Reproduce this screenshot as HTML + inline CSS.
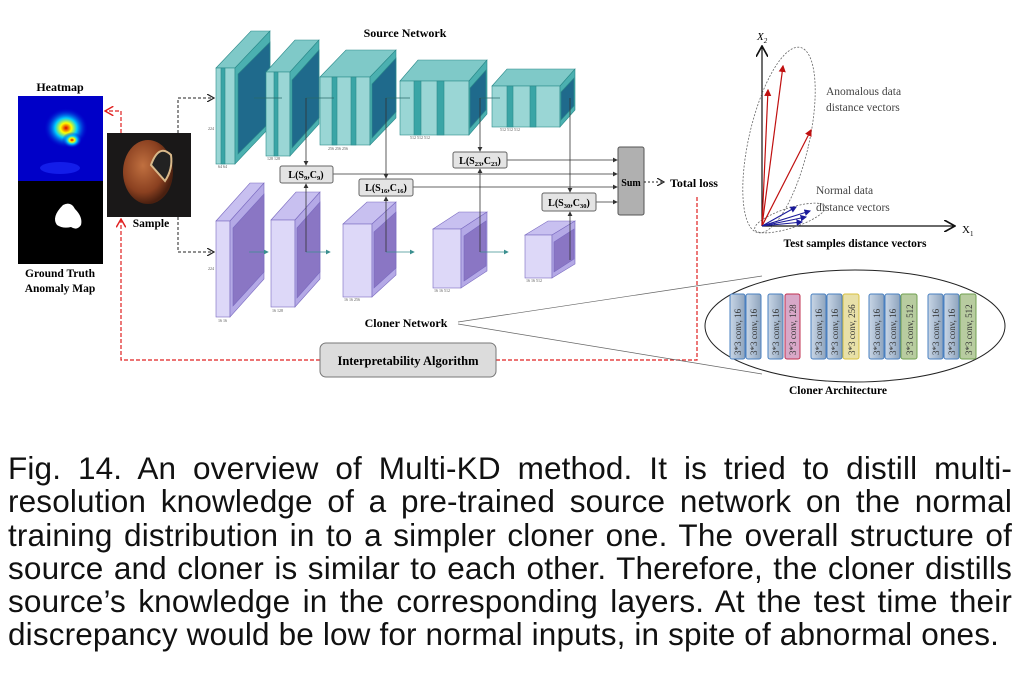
<!DOCTYPE html>
<html><head><meta charset="utf-8">
<style>
html,body{margin:0;padding:0;background:#fff;width:1026px;height:677px;overflow:hidden}
svg{position:absolute;left:0;top:0}
.cap{position:absolute;left:8px;width:1004px;font-family:"Liberation Sans",sans-serif;font-size:31.5px;line-height:33.3px;color:#111;top:452px;letter-spacing:0.15px}
.cap div{text-align:justify;text-align-last:justify;white-space:nowrap}
.cap div.l{text-align-last:left}
text{font-family:"Liberation Serif",serif}
</style></head><body>
<svg width="1026" height="440" viewBox="0 0 1026 440" xmlns="http://www.w3.org/2000/svg">
<defs>
<marker id="ah" markerWidth="8" markerHeight="8" refX="7" refY="4" orient="auto"><path d="M0,0 L7,4 L0,8" fill="none" stroke="#222" stroke-width="1.2"/></marker>
<marker id="ahr" markerWidth="8" markerHeight="8" refX="7" refY="4" orient="auto"><path d="M0,0 L7,4 L0,8" fill="none" stroke="#e02020" stroke-width="1.2"/></marker>
<marker id="ahs" markerWidth="6" markerHeight="6" refX="5" refY="3" orient="auto"><path d="M0,0 L6,3 L0,6z" fill="#333"/></marker>
<marker id="aht" markerWidth="6" markerHeight="6" refX="5" refY="3" orient="auto"><path d="M0,0 L6,3 L0,6z" fill="#3a8f8f"/></marker>
<marker id="ahred" markerWidth="6" markerHeight="6" refX="5" refY="3" orient="auto"><path d="M0,0 L6,3 L0,6z" fill="#c01010"/></marker>
<marker id="ahb" markerWidth="6" markerHeight="6" refX="5" refY="3" orient="auto"><path d="M0,0 L6,3 L0,6z" fill="#1a1a9a"/></marker>
<marker id="ahk" markerWidth="10" markerHeight="10" refX="9" refY="5" orient="auto"><path d="M0,0 L9,5 L0,10" fill="none" stroke="#111" stroke-width="1.4"/></marker>
<radialGradient id="hm" cx="0.5" cy="0.5" r="0.5"><stop offset="0" stop-color="#d00"/><stop offset="0.25" stop-color="#ff0"/><stop offset="0.5" stop-color="#0cf"/><stop offset="1" stop-color="#0000d0" stop-opacity="0"/></radialGradient>
<radialGradient id="nut" cx="0.4" cy="0.4" r="0.6"><stop offset="0" stop-color="#c07040"/><stop offset="0.7" stop-color="#8a4020"/><stop offset="1" stop-color="#4a2010"/></radialGradient>
<linearGradient id="chip" x1="0" y1="0" x2="1" y2="0"><stop offset="0" stop-color="#c9d6e6"/><stop offset="1" stop-color="#8ea4bd"/></linearGradient>
</defs>
<rect width="1026" height="440" fill="#fff"/>

<text x="60" y="91" font-size="12" font-weight="bold" text-anchor="middle">Heatmap</text>
<rect x="18" y="96" width="85" height="85" fill="#0000c8"/>
<ellipse cx="66" cy="128" rx="22" ry="20" fill="url(#hm)"/>
<ellipse cx="72" cy="140" rx="10" ry="8" fill="url(#hm)"/>
<ellipse cx="60" cy="168" rx="20" ry="6" fill="#2030ff" opacity="0.6"/>
<rect x="18" y="181" width="85" height="83" fill="#000"/>
<path d="M63,205 q8,-4 12,4 q8,8 6,16 q-4,6 -10,2 q-8,2 -14,-2 q-6,-8 6,-20z" fill="#fff"/>
<text x="60" y="277" font-size="11.5" font-weight="bold" text-anchor="middle">Ground Truth</text>
<text x="60" y="292" font-size="11.5" font-weight="bold" text-anchor="middle">Anomaly Map</text>

<rect x="107" y="133" width="84" height="84" fill="#1a1818"/>
<ellipse cx="148" cy="172" rx="25" ry="32" fill="url(#nut)"/>
<path d="M151,165 q8,-22 20,-10 q2,14 -6,26 z" fill="#222" stroke="#d9b98a" stroke-width="2"/>
<text x="151" y="227" font-size="11.5" font-weight="bold" text-anchor="middle">Sample</text>

<path d="M178,133 V98 H214" fill="none" stroke="#222" stroke-width="1" stroke-dasharray="3,2" marker-end="url(#ah)"/>
<path d="M178,217 V252 H214" fill="none" stroke="#222" stroke-width="1" stroke-dasharray="3,2" marker-end="url(#ah)"/>

<path d="M121,133 V111 H105" fill="none" stroke="#e02020" stroke-width="1.2" stroke-dasharray="4,2" marker-end="url(#ahr)"/>
<path d="M320,360 H121 V219" fill="none" stroke="#e02020" stroke-width="1.2" stroke-dasharray="4,2" marker-end="url(#ahr)"/>
<path d="M496,360 H697 V195" fill="none" stroke="#e02020" stroke-width="1.2" stroke-dasharray="4,2"/>

<text x="405" y="37" font-size="12" font-weight="bold" text-anchor="middle">Source Network</text>
<g stroke="#2a8a8a" stroke-width="0.6">
<polygon points="216,68 251,31 270,31 235,68" fill="#7fc9c8"/>
<rect x="216" y="68" width="19" height="96" fill="#9ad6d5"/>
<rect x="221" y="68" width="4" height="96" fill="#3aa5a6"/>
<polygon points="235,68 270,31 270,127 235,164" fill="#4bb0b0"/>
<polygon points="238,74 270,42 270,122 238,154" fill="#1f6a8c"/>
<polygon points="266,72 295,40 319,40 290,72" fill="#7fc9c8"/>
<rect x="266" y="72" width="24" height="84" fill="#9ad6d5"/>
<rect x="274" y="72" width="4" height="84" fill="#3aa5a6"/>
<polygon points="290,72 319,40 319,124 290,156" fill="#4bb0b0"/>
<polygon points="292,80 319,50 319,118 292,148" fill="#1f6a8c"/>
<polygon points="320,77 346,50 396,50 370,77" fill="#7fc9c8"/>
<rect x="320" y="77" width="50" height="68" fill="#9ad6d5"/>
<rect x="332" y="77" width="5" height="68" fill="#3aa5a6"/><rect x="351" y="77" width="5" height="68" fill="#3aa5a6"/>
<polygon points="370,77 396,50 396,118 370,145" fill="#4bb0b0"/>
<polygon points="372,84 396,58 396,112 372,138" fill="#1f6a8c"/>
<polygon points="400,81 418,60 487,60 469,81" fill="#7fc9c8"/>
<rect x="400" y="81" width="69" height="54" fill="#9ad6d5"/>
<rect x="414" y="81" width="7" height="54" fill="#3aa5a6"/><rect x="437" y="81" width="7" height="54" fill="#3aa5a6"/>
<polygon points="469,81 487,60 487,114 469,135" fill="#4bb0b0"/>
<polygon points="470,88 486,70 486,110 470,128" fill="#1f6a8c"/>
<polygon points="492,86 507,69 575,69 560,86" fill="#7fc9c8"/>
<rect x="492" y="86" width="68" height="41" fill="#9ad6d5"/>
<rect x="507" y="86" width="6" height="41" fill="#3aa5a6"/><rect x="530" y="86" width="6" height="41" fill="#3aa5a6"/>
<polygon points="560,86 575,69 575,110 560,127" fill="#4bb0b0"/>
<polygon points="561,92 574,78 574,106 561,120" fill="#1f6a8c"/>
</g>

<g stroke="#7a6ac0" stroke-width="0.6">
<polygon points="216,221 250,183 264,183 230,221" fill="#c8c0f0"/>
<rect x="216" y="221" width="14" height="96" fill="#ddd8f8"/>
<polygon points="230,221 264,183 264,279 230,317" fill="#b4a9e6"/>
<polygon points="233,228 264,194 264,272 233,306" fill="#8a76c4"/>
<polygon points="271,220 296,192 320,192 295,220" fill="#c8c0f0"/>
<rect x="271" y="220" width="24" height="87" fill="#ddd8f8"/>
<polygon points="295,220 320,192 320,279 295,307" fill="#b4a9e6"/>
<polygon points="297,228 320,202 320,272 297,298" fill="#8a76c4"/>
<polygon points="343,224 367,202 396,202 372,224" fill="#c8c0f0"/>
<rect x="343" y="224" width="29" height="73" fill="#ddd8f8"/>
<polygon points="372,224 396,202 396,275 372,297" fill="#b4a9e6"/>
<polygon points="374,232 396,212 396,268 374,288" fill="#8a76c4"/>
<polygon points="433,229 459,212 487,212 461,229" fill="#c8c0f0"/>
<rect x="433" y="229" width="28" height="59" fill="#ddd8f8"/>
<polygon points="461,229 487,212 487,271 461,288" fill="#b4a9e6"/>
<polygon points="464,236 486,221 486,266 464,281" fill="#8a76c4"/>
<polygon points="525,235 548,221 575,221 552,235" fill="#c8c0f0"/>
<rect x="525" y="235" width="27" height="43" fill="#ddd8f8"/>
<polygon points="552,235 575,221 575,264 552,278" fill="#b4a9e6"/>
<polygon points="554,242 574,229 574,259 554,272" fill="#8a76c4"/>
</g>
<g font-size="4" fill="#555" font-family="Liberation Serif,serif">
<text x="208" y="130">224</text><text x="218" y="168">64 64</text><text x="267" y="160">128 128</text>
<text x="328" y="150">256 256 256</text><text x="410" y="139">512 512 512</text><text x="500" y="131">512 512 512</text>
<text x="208" y="270">224</text><text x="218" y="322">16 16</text><text x="272" y="312">16 128</text>
<text x="344" y="301">16 16 256</text><text x="434" y="292">16 16 512</text><text x="526" y="282">16 16 512</text>
</g>

<g stroke="#2a6a6a" stroke-width="0.8" fill="none">
<path d="M254,98 H282"/><path d="M306,98 H334"/><path d="M386,98 H410"/><path d="M480,98 H500"/>
</g>
<g stroke="#3a8f8f" stroke-width="0.8" fill="none">
<path d="M249,252 H268" marker-end="url(#aht)"/><path d="M306,252 H330" marker-end="url(#aht)"/>
<path d="M386,252 H414" marker-end="url(#aht)"/><path d="M480,252 H508" marker-end="url(#aht)"/>
</g>

<g stroke="#333" stroke-width="0.8" fill="none">
<path d="M306,98 V165" marker-end="url(#ahs)"/><path d="M306,252 V184" marker-end="url(#ahs)"/>
<path d="M386,98 V178" marker-end="url(#ahs)"/><path d="M386,252 V197" marker-end="url(#ahs)"/>
<path d="M480,98 V151" marker-end="url(#ahs)"/><path d="M480,252 V169" marker-end="url(#ahs)"/>
<path d="M570,98 V192" marker-end="url(#ahs)"/><path d="M570,260 V212" marker-end="url(#ahs)"/>
<path d="M333,174 H617" marker-end="url(#ahs)"/>
<path d="M413,187 H617" marker-end="url(#ahs)"/>
<path d="M507,160 H617" marker-end="url(#ahs)"/>
<path d="M596,202 H617" marker-end="url(#ahs)"/>
</g>
<g font-size="10" font-weight="bold" text-anchor="middle">
<rect x="280" y="166" width="53" height="17" rx="2" fill="#e4e4e4" stroke="#666"/><text x="306" y="178">L(S<tspan font-size="6.5" dy="2">9</tspan><tspan dy="-2">,C</tspan><tspan font-size="6.5" dy="2">9</tspan><tspan dy="-2">)</tspan></text>
<rect x="359" y="179" width="54" height="17" rx="2" fill="#e4e4e4" stroke="#666"/><text x="386" y="191">L(S<tspan font-size="6.5" dy="2">16</tspan><tspan dy="-2">,C</tspan><tspan font-size="6.5" dy="2">16</tspan><tspan dy="-2">)</tspan></text>
<rect x="453" y="152" width="54" height="16" rx="2" fill="#e4e4e4" stroke="#666"/><text x="480" y="164">L(S<tspan font-size="6.5" dy="2">23</tspan><tspan dy="-2">,C</tspan><tspan font-size="6.5" dy="2">23</tspan><tspan dy="-2">)</tspan></text>
<rect x="542" y="193" width="54" height="18" rx="2" fill="#e4e4e4" stroke="#666"/><text x="569" y="206">L(S<tspan font-size="6.5" dy="2">30</tspan><tspan dy="-2">,C</tspan><tspan font-size="6.5" dy="2">30</tspan><tspan dy="-2">)</tspan></text>
</g>
<rect x="618" y="147" width="26" height="68" rx="2" fill="#b0b0b0" stroke="#555"/>
<text x="631" y="186" font-size="10" font-weight="bold" text-anchor="middle">Sum</text>
<path d="M644,182 H664" stroke="#222" stroke-dasharray="2,2" fill="none" marker-end="url(#ah)"/>
<text x="670" y="187" font-size="12" font-weight="bold">Total loss</text>

<text x="406" y="327" font-size="12" font-weight="bold" text-anchor="middle">Cloner Network</text>
<path d="M458,322 L762,276 M458,324 L762,374" stroke="#666" stroke-width="0.7" fill="none"/>

<rect x="320" y="343" width="176" height="34" rx="6" fill="#dcdcdc" stroke="#777"/>
<text x="408" y="365" font-size="12.5" font-weight="bold" text-anchor="middle">Interpretability Algorithm</text>

<path d="M762,226 V46" stroke="#111" stroke-width="1.2" fill="none" marker-end="url(#ahk)"/>
<path d="M762,226 H955" stroke="#111" stroke-width="1.2" fill="none" marker-end="url(#ahk)"/>
<text x="757" y="40" font-size="11" font-style="italic">X<tspan font-size="7" dy="3">2</tspan></text>
<text x="962" y="233" font-size="11">X<tspan font-size="7" dy="3">1</tspan></text>
<ellipse cx="779" cy="140" rx="30" ry="95" transform="rotate(13 779 140)" fill="none" stroke="#666" stroke-width="0.8" stroke-dasharray="2,1.5"/>
<ellipse cx="790" cy="218" rx="37" ry="10" transform="rotate(-18 790 218)" fill="none" stroke="#666" stroke-width="0.8" stroke-dasharray="2,1.5"/>
<g stroke="#c01010" stroke-width="1.2">
<line x1="762" y1="226" x2="768" y2="90" marker-end="url(#ahred)"/>
<line x1="762" y1="226" x2="783" y2="66" marker-end="url(#ahred)"/>
<line x1="762" y1="226" x2="811" y2="130" marker-end="url(#ahred)"/>
</g>
<g stroke="#1a1a9a" stroke-width="1.1">
<line x1="762" y1="226" x2="810" y2="211" marker-end="url(#ahb)"/>
<line x1="762" y1="226" x2="806" y2="217" marker-end="url(#ahb)"/>
<line x1="762" y1="226" x2="802" y2="222" marker-end="url(#ahb)"/>
<line x1="762" y1="226" x2="796" y2="207" marker-end="url(#ahb)"/>
</g>
<g font-size="11.5" fill="#444">
<text x="826" y="95">Anomalous data</text><text x="826" y="111">distance vectors</text>
<text x="816" y="194">Normal data</text><text x="816" y="211">distance vectors</text>
</g>
<text x="855" y="247" font-size="11.5" font-weight="bold" text-anchor="middle">Test samples distance vectors</text>

<ellipse cx="855" cy="326" rx="150" ry="56" fill="#fff" stroke="#222" stroke-width="1"/>
<g stroke-width="1">
<rect x="730" y="294" width="15" height="65" rx="2" fill="url(#chip)" stroke="#4a80c0"/>
<rect x="746" y="294" width="15" height="65" rx="2" fill="url(#chip)" stroke="#4a80c0"/>
<rect x="768" y="294" width="15" height="65" rx="2" fill="url(#chip)" stroke="#4a80c0"/>
<rect x="785" y="294" width="15" height="65" rx="2" fill="#d8a8c8" stroke="#c03050"/>
<rect x="811" y="294" width="15" height="65" rx="2" fill="url(#chip)" stroke="#4a80c0"/>
<rect x="827" y="294" width="15" height="65" rx="2" fill="url(#chip)" stroke="#4a80c0"/>
<rect x="843" y="294" width="16" height="65" rx="2" fill="#e8e0a8" stroke="#d8c040"/>
<rect x="869" y="294" width="15" height="65" rx="2" fill="url(#chip)" stroke="#4a80c0"/>
<rect x="885" y="294" width="15" height="65" rx="2" fill="url(#chip)" stroke="#4a80c0"/>
<rect x="901" y="294" width="16" height="65" rx="2" fill="#b8cca0" stroke="#70a050"/>
<rect x="928" y="294" width="15" height="65" rx="2" fill="url(#chip)" stroke="#4a80c0"/>
<rect x="944" y="294" width="15" height="65" rx="2" fill="url(#chip)" stroke="#4a80c0"/>
<rect x="960" y="294" width="16" height="65" rx="2" fill="#b8cca0" stroke="#70a050"/>
</g>
<g font-size="9" fill="#333">
<text transform="translate(741,355) rotate(-90)">3*3 conv, 16</text>
<text transform="translate(757,355) rotate(-90)">3*3 conv, 16</text>
<text transform="translate(779,355) rotate(-90)">3*3 conv, 16</text>
<text transform="translate(796,355) rotate(-90)">3*3 conv, 128</text>
<text transform="translate(822,355) rotate(-90)">3*3 conv, 16</text>
<text transform="translate(838,355) rotate(-90)">3*3 conv, 16</text>
<text transform="translate(855,355) rotate(-90)">3*3 conv, 256</text>
<text transform="translate(880,355) rotate(-90)">3*3 conv, 16</text>
<text transform="translate(896,355) rotate(-90)">3*3 conv, 16</text>
<text transform="translate(913,355) rotate(-90)">3*3 conv, 512</text>
<text transform="translate(939,355) rotate(-90)">3*3 conv, 16</text>
<text transform="translate(955,355) rotate(-90)">3*3 conv, 16</text>
<text transform="translate(972,355) rotate(-90)">3*3 conv, 512</text>
</g>
<text x="838" y="394" font-size="11.5" font-weight="bold" text-anchor="middle">Cloner Architecture</text>
</svg>

<div class="cap">
<div>Fig. 14. An overview of Multi-KD method. It is tried to distill multi-</div>
<div>resolution knowledge of a pre-trained source network on the normal</div>
<div>training distribution in to a simpler cloner one. The overall structure of</div>
<div>source and cloner is similar to each other. Therefore, the cloner distills</div>
<div>source’s knowledge in the corresponding layers. At the test time their</div>
<div class="l">discrepancy would be low for normal inputs, in spite of abnormal ones.</div>
</div>
</body></html>
